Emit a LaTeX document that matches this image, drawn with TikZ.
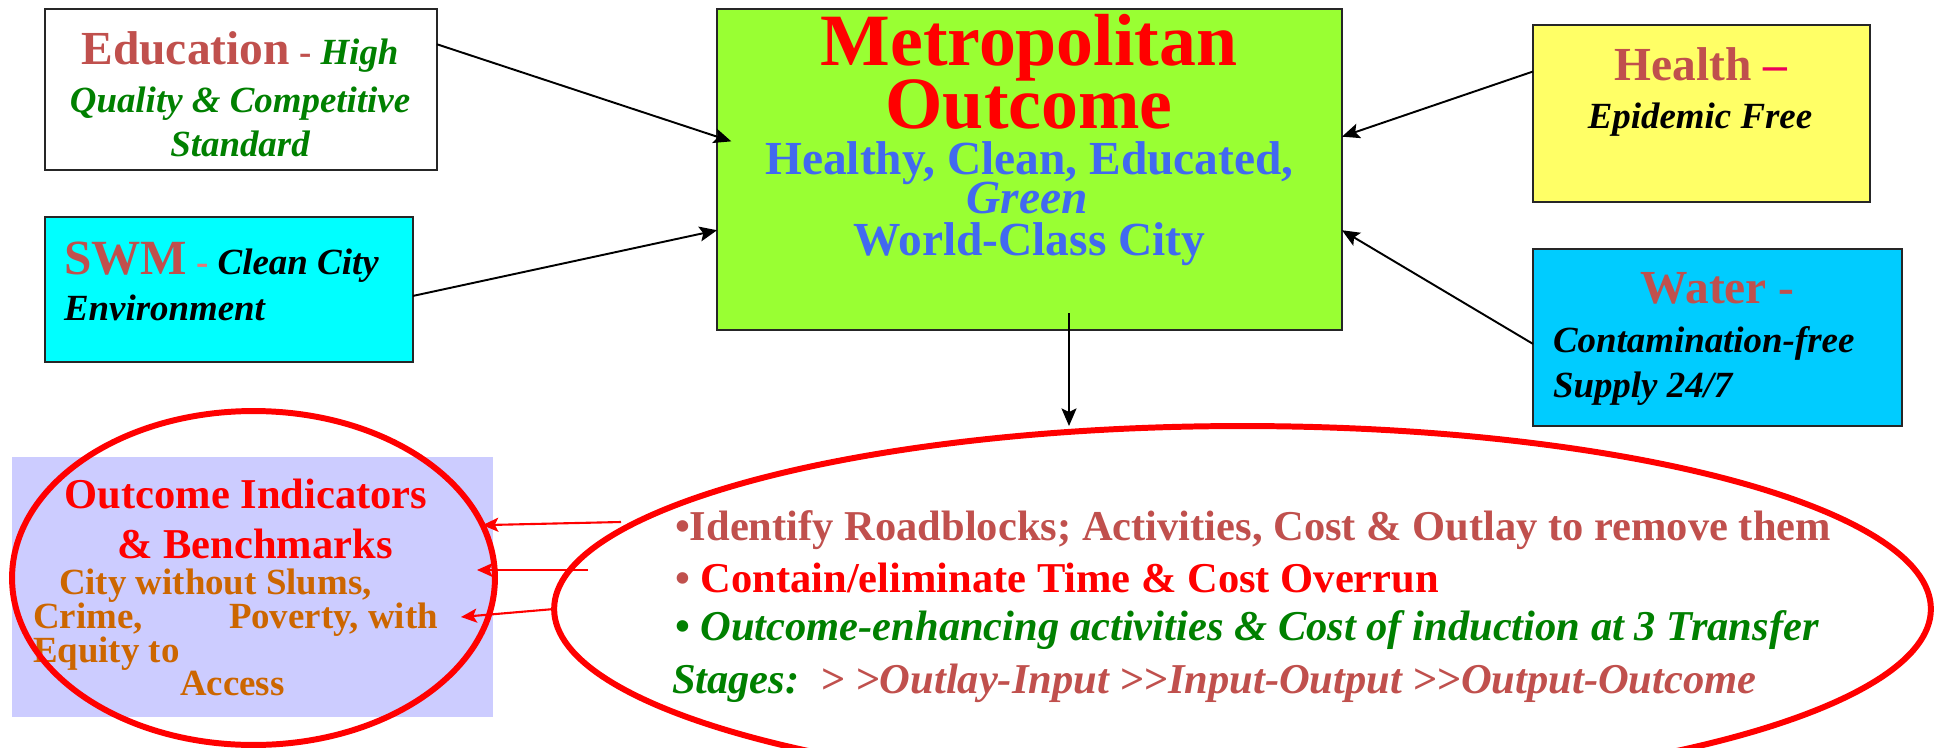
\documentclass[tikz,border=0pt]{standalone}
\usepackage{fontspec}
\setmainfont{Liberation Serif}
\usepackage{tikz}
\usetikzlibrary{positioning, shapes.geometric, arrows.meta}
\definecolor{brickred}{RGB}{192,80,77}
\definecolor{salmonred}{RGB}{230,120,120}
\definecolor{pinkred}{RGB}{235,0,90}
\definecolor{leafgreen}{RGB}{0,128,0}
\definecolor{skyblue}{RGB}{65,105,240}
\definecolor{rust}{RGB}{204,102,0}
\definecolor{limefill}{RGB}{153,255,51}
\definecolor{lemonfill}{RGB}{255,255,102}
\definecolor{aquafill}{RGB}{0,255,255}
\definecolor{waterfill}{RGB}{0,204,255}
\definecolor{lavender}{RGB}{204,204,255}
\tikzset{
    boxnode/.style={
        rectangle,
        draw=black!85, % 边框为深灰
        line width=0.9pt,
        inner sep=0
    },
    ringnode/.style={
        ellipse,
        draw=red, % 边框颜色为红色
        line width=3.4pt, % 边框加粗
        inner sep=0
    },
    blackarrow/.style={
        -{Stealth[length=10pt,width=8.5pt,inset=2pt]},
        line width=1.1pt
    },
    redarrow/.style={
        -{Stealth[length=9pt,width=8pt,inset=2pt]},
        draw=red,
        line width=1.2pt
    },
    hugefont/.style={font=\fontsize{42}{46}\selectfont\bfseries},
    headfont/.style={font=\fontsize{27}{30}\selectfont\bfseries},
    midfont/.style={font=\fontsize{24.2}{28}\selectfont\bfseries},
    smallfont/.style={font=\fontsize{21}{24}\selectfont\bfseries}
}

\begin{document}
\begin{tikzpicture}[
                x=0.02cm,
                y=-0.02cm,
                every node/.style={
                    inner sep=0,
                    outer sep=0
                }
            ]
            \useasboundingbox (0,0) rectangle (1936,747);
            % 上方五个方框
            \node[boxnode, fill=white, minimum width=7.84cm, minimum height=3.22cm] (edu) at (241,89.5) {};
            \node[boxnode, fill=aquafill, minimum width=7.36cm, minimum height=2.90cm] (swm) at (229,289.5) {};
            \node[boxnode, fill=limefill, minimum width=12.5cm, minimum height=6.42cm] (metro) at (1029.5,169.5) {};
            \node[boxnode, fill=lemonfill, minimum width=6.74cm, minimum height=3.54cm] (health) at (1701.5,113.5) {};
            \node[boxnode, fill=waterfill, minimum width=7.38cm, minimum height=3.54cm] (water) at (1717.5,337.5) {};
            \node[fill=lavender, minimum width=9.62cm, minimum height=5.2cm] (indic) at (252.5,587) {};

            \node[smallfont, anchor=base] (edu1) at (240,64) {\textcolor{brickred}{\fontsize{27}{30}\selectfont Education} \textcolor{brickred}{-} \textcolor{leafgreen}{\itshape High}};
            \node[smallfont, anchor=base, text=leafgreen] (edu2) at (240,112) {\itshape Quality \& Competitive};
            \node[smallfont, anchor=base, text=leafgreen] (edu3) at (240,156) {\itshape Standard};

            \node[smallfont, anchor=base west] (swm1) at (64,274) {\textcolor{brickred}{\fontsize{28}{30}\selectfont SWM} \textcolor{salmonred}{-} \itshape Clean City};
            \node[smallfont, anchor=base west] (swm2) at (64,320) {\itshape Environment};

            \node[hugefont, anchor=base, text=red] (metro1) at (1029,65) {Metropolitan};
            \node[hugefont, anchor=base, text=red] (metro2) at (1029,128) {Outcome};
            \node[headfont, anchor=base, text=skyblue] (metro3) at (1029.5,174) {Healthy, Clean, Educated,};
            \node[headfont, anchor=base, text=skyblue] (metro4) at (1027,213) {\itshape Green};
            \node[headfont, anchor=base, text=skyblue] (metro5) at (1029.5,255) {World-Class City};

            \node[headfont, anchor=base] (health1) at (1701,80) {\textcolor{brickred}{Health} \textcolor{pinkred}{--}};
            \node[smallfont, anchor=base] (health2) at (1700,128) {\itshape Epidemic Free};

            \node[headfont, anchor=base, text=brickred] (water1) at (1717.5,303) {Water -};
            \node[smallfont, anchor=base west] (water2) at (1553,352) {\itshape Contamination-free};
            \node[smallfont, anchor=base west] (water3) at (1553,397) {\itshape Supply 24/7};

            % 左下指标
            \node[midfont, anchor=base, text=red] (indic1) at (246,508) {Outcome Indicators};
            \node[midfont, anchor=base, text=red] (indic2) at (255,558) {\& Benchmarks};
            \node[smallfont, anchor=base west, text=rust] (indic3) at (59,594) {City without Slums,};
            \node[smallfont, anchor=base west, text=rust] (indic4) at (33,628) {Crime,};
            \node[smallfont, anchor=base west, text=rust] (indic5) at (229,628) {Poverty, with};
            \node[smallfont, anchor=base west, text=rust] (indic6) at (33,662) {Equity to};
            \node[smallfont, anchor=base west, text=rust] (indic7) at (180,695) {Access};

            % 右下措施
            \node[midfont, anchor=base west, text=brickred] (task1) at (675,540) {•Identify Roadblocks; Activities, Cost \& Outlay to remove them};
            \node[midfont, anchor=base west] (task2) at (675,592) {\textcolor{brickred}{•} \textcolor{red}{Contain/eliminate Time \& Cost Overrun}};
            \node[midfont, anchor=base west, text=leafgreen] (task3) at (675,640) {• \itshape Outcome-enhancing activities \& Cost of induction at 3 Transfer};
            \node[midfont, anchor=base west] (task4) at (672,693) {\itshape\textcolor{leafgreen}{Stages:}\ \ \textcolor{brickred}{> >Outlay-Input >\kern0pt>Input-Output >\kern0pt>Output-Outcome}};

            \node[ringnode, minimum width=9.66cm, minimum height=6.68cm] (leftring) at (253.5,578) {};
            \node[ringnode, minimum width=27.54cm, minimum height=7.32cm] (bigring) at (1242.5,609) {};

            % 箭头
            \draw[blackarrow, shorten >=-0.3cm] (edu.13.6) -- (metro.174);
            \draw[blackarrow] (swm.-2.3) -- (metro.191.5);
            \draw[blackarrow] (health.166.5) -- (metro.6.3);
            \draw[blackarrow] (water.182.3) -- (metro.-11.5);
            \coordinate (drop) at (1069,313);
            \draw[blackarrow] (drop) -- (drop |- bigring.north);

            \coordinate (cut1) at (621,522);
            \coordinate (cut2) at (588,570);
            \coordinate (tip2) at (477,570);
            \coordinate (tip3) at (461,617);
            \draw[redarrow] (cut1) -- (leftring.13.9);
            \draw[redarrow] (cut2) -- (tip2);
            \draw[redarrow] (bigring.180.66) -- (tip3);
\end{tikzpicture}
\end{document}
